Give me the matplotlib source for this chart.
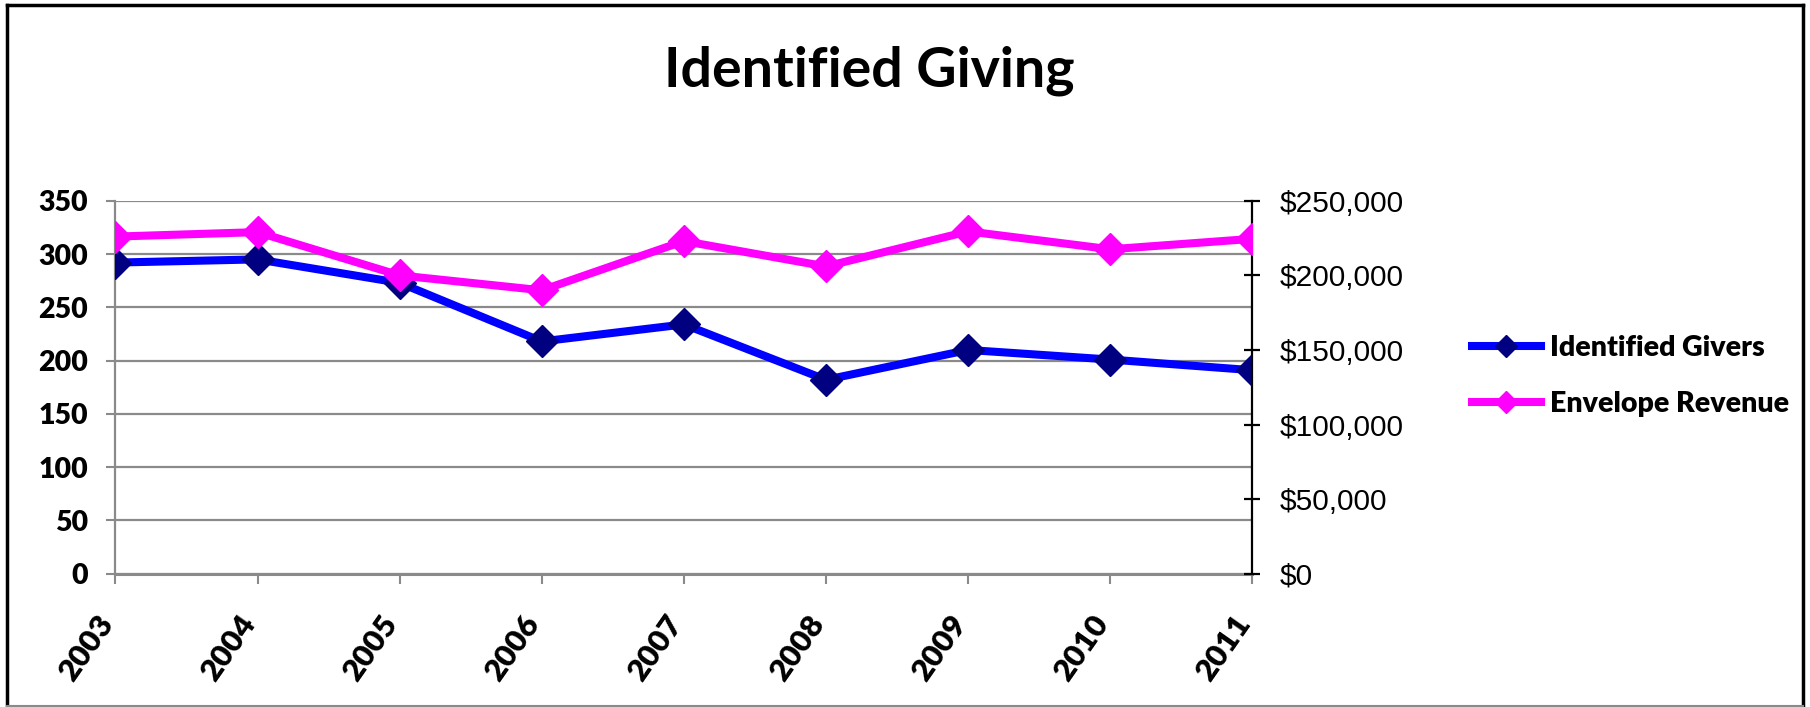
import matplotlib
matplotlib.use("Agg")
import matplotlib.pyplot as plt
import matplotlib.ticker as mticker
from matplotlib.lines import Line2D
from matplotlib.transforms import ScaledTranslation

# ---- data ----
years = ["2003", "2004", "2005", "2006", "2007", "2008", "2009", "2010", "2011"]
identified_givers = [292, 295, 273, 218, 234, 182, 210, 201, 191]
envelope_revenue = [226000, 229000, 200000, 190000, 223000, 206000, 229500, 217500, 224500]
left_ticks = [0, 50, 100, 150, 200, 250, 300, 350]
right_ticks = [0, 50000, 100000, 150000, 200000, 250000]
title = "Identified Giving"
series_names = ["Identified Givers", "Envelope Revenue"]

HEAVY = 800
plt.rcParams["font.family"] = ["Lato", "DejaVu Sans"]
plt.rcParams["font.weight"] = HEAVY

W, H = 1810, 707
fig = plt.figure(figsize=(W / 100, H / 100), dpi=100)
fig.patch.set_facecolor("white")

L, R, T, B = 115.4, 1252.4, 200.8, 573.7
ax = fig.add_axes([L / W, 1 - B / H, (R - L) / W, (B - T) / H])
ax2 = ax.twinx()

GRID = "#8a8a8a"
x = list(range(len(years)))

ax.set_axisbelow(True)
ax.yaxis.grid(True, color=GRID, lw=1.6)
l1, = ax.plot(x, identified_givers, color="#0000ff", lw=5.8, marker="D",
              markersize=16, markerfacecolor="#000080", markeredgecolor="#000080",
              label=series_names[0], zorder=3, solid_joinstyle="miter")
l2, = ax2.plot(x, envelope_revenue, color="#ff00ff", lw=5.8, marker="D",
               markersize=16, markerfacecolor="#ff00ff", markeredgecolor="#ff00ff",
               label=series_names[1], zorder=3, solid_joinstyle="miter")

ax.set_xlim(0, len(years) - 1)
ax.set_ylim(0, 350)
ax2.set_ylim(0, 250000)
ax.set_yticks(left_ticks)
ax2.set_yticks(right_ticks)
ax2.yaxis.set_major_formatter(mticker.StrMethodFormatter("${x:,.0f}"))
ax.set_xticks(x)
ax.set_xticklabels(years)

ax.tick_params(axis="x", colors=GRID, length=7, width=1.5, direction="out",
               labelcolor="black", pad=25, labelsize=22.5, labelrotation=55)
ax.tick_params(axis="y", colors=GRID, length=6.5, width=1.5, direction="out",
               labelcolor="black", pad=13, labelsize=20.5)
ax2.tick_params(axis="y", colors="black", length=11, width=1.6, direction="inout",
                labelcolor="black", pad=14, labelsize=21.5,
                labelfontfamily="Liberation Sans")

for s in ["top", "right"]:
    ax.spines[s].set_visible(False)
ax.spines["left"].set_color(GRID); ax.spines["left"].set_linewidth(1.6)
ax.spines["bottom"].set_color(GRID); ax.spines["bottom"].set_linewidth(2.2)
for s in ["top", "left", "bottom"]:
    ax2.spines[s].set_visible(False)
ax2.spines["right"].set_color("black"); ax2.spines["right"].set_linewidth(1.6)

fig.text(869 / W, 1 - 86 / H, title, ha="center", va="baseline",
         fontweight="bold", fontsize=40)

fig.legend(handles=[l1, l2], labels=series_names, loc="center right",
           bbox_to_anchor=(1789 / W, 1 - 376 / H), frameon=False,
           prop={"weight": HEAVY, "size": 20.5},
           handlelength=2.45, handletextpad=0.3, labelspacing=1.05,
           markerscale=0.72, borderpad=0, borderaxespad=0)

# outer chart frame
fig.add_artist(Line2D([7 / W, 7 / W], [1 - 706 / H, 1 - 5 / H], color="black", lw=2.5))
fig.add_artist(Line2D([7 / W, 1803 / W], [1 - 5 / H, 1 - 5 / H], color="black", lw=2.5))
fig.add_artist(Line2D([1803 / W, 1803 / W], [1 - 706 / H, 1 - 5 / H], color="black", lw=2.5))
fig.add_artist(Line2D([7 / W, 1803 / W], [1 - 706 / H, 1 - 706 / H], color=GRID, lw=1.5))

fig.canvas.draw()
shift = ScaledTranslation(-8 / 100, 0, fig.dpi_scale_trans)
for lab in ax.get_xticklabels():
    lab.set_ha("right"); lab.set_va("center"); lab.set_rotation_mode("anchor")
    lab.set_transform(lab.get_transform() + shift)
for lab in ax2.get_yticklabels():
    lab.set_fontweight("normal"); lab.set_family("Liberation Sans")

fig.savefig("out.png", dpi=100)
